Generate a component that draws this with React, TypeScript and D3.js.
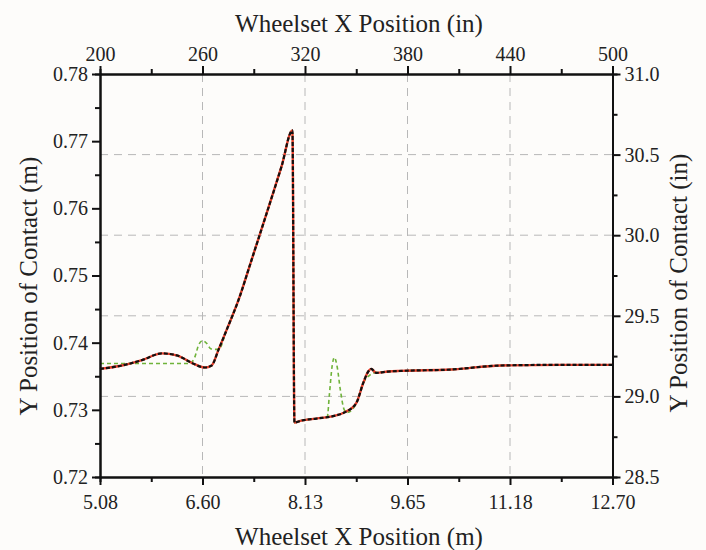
import { useRef, useEffect } from "react";
import * as d3 from "d3";

// wheelset x position (m) and contact y position (m), main solution
const mainX = [5.08, 5.406, 5.703, 6.0, 6.222, 6.444, 6.637, 6.74, 6.844, 6.963, 7.141, 7.333, 7.556, 7.778, 7.941, 7.971, 8.075, 8.297, 8.564, 8.712, 8.89, 8.994, 9.068, 9.112, 9.187, 9.365, 9.557, 10.298, 11.04, 11.93, 12.7];
const mainY = [0.7361, 0.7366, 0.7374, 0.7384, 0.7381, 0.737, 0.7363, 0.7366, 0.739, 0.7419, 0.7464, 0.7523, 0.7592, 0.7662, 0.7716, 0.7281, 0.7284, 0.7287, 0.7291, 0.7296, 0.731, 0.734, 0.7357, 0.7361, 0.7355, 0.7357, 0.7358, 0.736, 0.7366, 0.7367, 0.7367];

// comparison solution (green dashed)
const altX = [5.08, 5.851, 6.414, 6.488, 6.548, 6.607, 6.666, 6.726, 6.8, 6.844, 6.963, 7.141, 7.333, 7.556, 7.778, 7.941, 7.971, 8.075, 8.297, 8.46, 8.49, 8.534, 8.564, 8.608, 8.653, 8.712, 8.757, 8.89, 8.994, 9.083, 9.142, 9.365, 9.557, 10.298, 11.04, 11.93, 12.7];
const altY = [0.7369, 0.7369, 0.7369, 0.7378, 0.7397, 0.7403, 0.7399, 0.7391, 0.739, 0.739, 0.7419, 0.7464, 0.7523, 0.7592, 0.7662, 0.7716, 0.7281, 0.7284, 0.7287, 0.729, 0.7322, 0.7367, 0.7378, 0.7363, 0.733, 0.73, 0.7296, 0.731, 0.734, 0.7351, 0.7355, 0.7357, 0.7358, 0.736, 0.7366, 0.7367, 0.7367];

const inchTicks = [200, 260, 320, 380, 440, 500];
const inchMinor = [230, 290, 350, 410, 470];
const meterLabels = ["5.08", "6.60", "8.13", "9.65", "11.18", "12.70"];
const leftTicks = [0.72, 0.73, 0.74, 0.75, 0.76, 0.77, 0.78];
const leftMinor = [0.725, 0.735, 0.745, 0.755, 0.765, 0.775];
const rightTicks = [28.5, 29.0, 29.5, 30.0, 30.5, 31.0];
const rightMinor = [28.75, 29.25, 29.75, 30.25, 30.75];

export default function App() {
  const ref = useRef<SVGSVGElement>(null);

  useEffect(() => {
    const svg = d3.select(ref.current);
    svg.selectAll("*").remove();

    const W = 706, H = 550;
    const margin = { top: 74, right: 93.5, bottom: 73, left: 100 };
    const width = W - margin.left - margin.right;
    const height = H - margin.top - margin.bottom;
    const font = "'Liberation Serif', 'Times New Roman', serif";

    svg.append("rect").attr("width", W).attr("height", H).attr("fill", "#fdfcfa");

    const g = svg.append("g").attr("transform", `translate(${margin.left},${margin.top})`);

    const xIn = d3.scaleLinear().domain([200, 500]).range([0, width]);
    const xM = d3.scaleLinear().domain([5.08, 12.7]).range([0, width]);
    const yM = d3.scaleLinear().domain([0.72, 0.78]).range([height, 0]);
    const yIn = d3.scaleLinear().domain([28.5, 31.0]).range([height, 0]);

    // grid, dashed, from the inch axes
    const grid = g.append("g").attr("stroke", "#b8b8b8").attr("stroke-width", 1).attr("stroke-dasharray", "8 6");
    inchTicks.slice(1, -1).forEach((t) => {
      grid.append("line").attr("x1", xIn(t)).attr("x2", xIn(t)).attr("y1", 0).attr("y2", height);
    });
    rightTicks.slice(1, -1).forEach((t) => {
      grid.append("line").attr("x1", 0).attr("x2", width).attr("y1", yIn(t)).attr("y2", yIn(t));
    });

    const lineOf = (xs: number[], ys: number[]) =>
      d3.line<number>()
        .x((_, i) => xM(xs[i]))
        .y((d) => yM(d))
        .curve(d3.curveMonotoneX)(ys);

    g.append("path").attr("d", lineOf(altX, altY)).attr("fill", "none")
      .attr("stroke", "#6fb33a").attr("stroke-width", 1.6).attr("stroke-dasharray", "4 3");
    g.append("path").attr("d", lineOf(mainX, mainY)).attr("fill", "none")
      .attr("stroke", "#e8402c").attr("stroke-width", 2.4);
    g.append("path").attr("d", lineOf(mainX, mainY)).attr("fill", "none")
      .attr("stroke", "#111").attr("stroke-width", 2.2).attr("stroke-dasharray", "4 2");

    const styleAxis = (sel: any, labels: boolean) => {
      sel.select(".domain").attr("stroke", "#111").attr("stroke-width", 2);
      sel.selectAll(".tick line").attr("stroke", "#111").attr("stroke-width", 2);
      sel.selectAll("text").attr("font-family", font).attr("font-size", labels ? 20 : 0).attr("fill", "#222");
    };

    const addAxis = (axis: any, tf: string, labels: boolean) => {
      const a = g.append("g").attr("transform", tf).call(axis);
      styleAxis(a, labels);
    };

    const bottomTf = `translate(0,${height})`;
    const rightTf = `translate(${width},0)`;

    addAxis(d3.axisBottom(xIn).tickValues(inchTicks).tickSize(8).tickSizeOuter(0).tickPadding(10)
      .tickFormat((_, i) => meterLabels[i]), bottomTf, true);
    addAxis(d3.axisBottom(xIn).tickValues(inchMinor).tickSize(5).tickFormat(() => ""), bottomTf, false);

    addAxis(d3.axisTop(xIn).tickValues(inchTicks).tickSize(8).tickSizeOuter(0).tickPadding(5)
      .tickFormat(d3.format("d")), "", true);
    addAxis(d3.axisTop(xIn).tickValues(inchMinor).tickSize(5).tickFormat(() => ""), "", false);

    addAxis(d3.axisLeft(yM).tickValues(leftTicks).tickSize(8).tickSizeOuter(0).tickPadding(4)
      .tickFormat(d3.format(".2f")), "", true);
    addAxis(d3.axisLeft(yM).tickValues(leftMinor).tickSize(5).tickFormat(() => ""), "", false);

    addAxis(d3.axisRight(yIn).tickValues(rightTicks).tickSize(8).tickSizeOuter(0).tickPadding(4)
      .tickFormat(d3.format(".1f")), rightTf, true);
    addAxis(d3.axisRight(yIn).tickValues(rightMinor).tickSize(5).tickFormat(() => ""), rightTf, false);

    const title = (x: number, y: number, text: string, rot = 0) =>
      svg.append("text")
        .attr("transform", `translate(${x},${y}) rotate(${rot})`)
        .attr("text-anchor", "middle")
        .attr("font-family", font)
        .attr("font-size", 25)
        .attr("fill", "#222")
        .text(text);

    title(359, 32, "Wheelset X Position (in)");
    title(359, 545, "Wheelset X Position (m)");
    title(37, 286, "Y Position of Contact (m)", -90);
    title(687, 283, "Y Position of Contact (in)", -90);
  }, []);

  return (
    <svg ref={ref} width={706} height={550} style={{ position: "absolute", left: 0, top: 0 }} />
  );
}
